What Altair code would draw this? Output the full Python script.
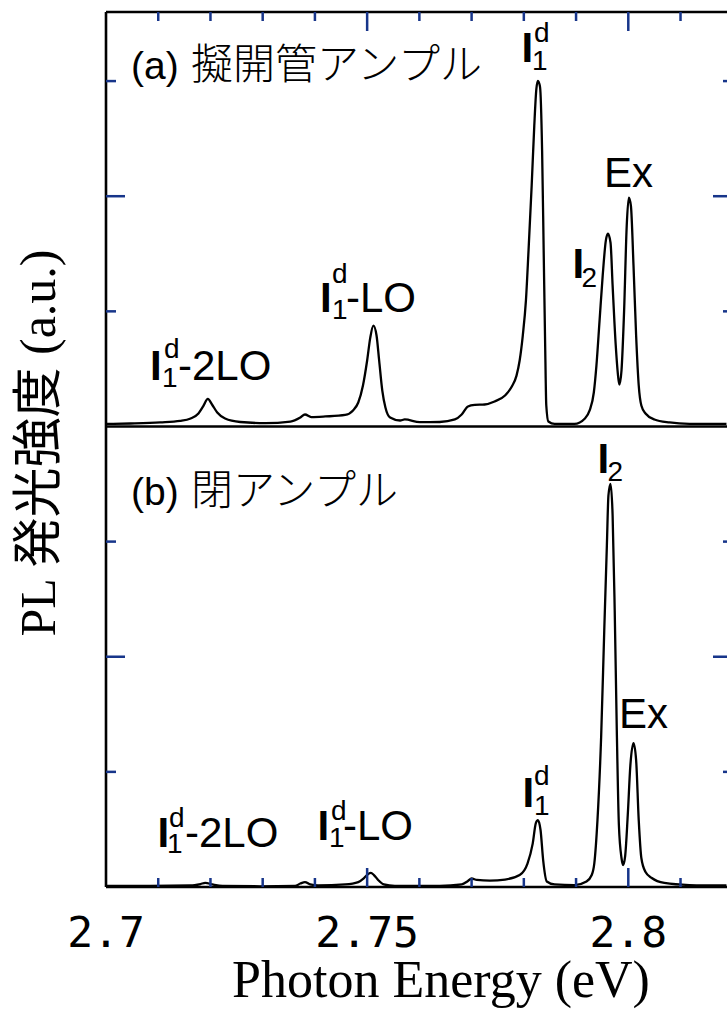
import altair as alt
import pandas as pd

# ---------------- data ----------------
# Panel (a) spectrum: photon energy (eV) and PL intensity (a.u.)
energy_a = [2.7000, 2.7047, 2.7104, 2.7142, 2.7162, 2.7177, 2.7186, 2.7195, 2.7203, 2.7213,
            2.7228, 2.7257, 2.7305, 2.7353, 2.7372, 2.7381, 2.7393, 2.7420, 2.7458, 2.7473,
            2.7483, 2.7492, 2.7500, 2.7506, 2.7512, 2.7518, 2.7523, 2.7529, 2.7535, 2.7544,
            2.7563, 2.7572, 2.7601, 2.7639, 2.7668, 2.7681, 2.7693, 2.7706, 2.7725, 2.7744,
            2.7764, 2.7777, 2.7786, 2.7792, 2.7798, 2.7804, 2.7809, 2.7815, 2.7820, 2.7824,
            2.7827, 2.7831, 2.7835, 2.7838, 2.7841, 2.7843, 2.7847, 2.7859, 2.7897, 2.7917,
            2.7926, 2.7934, 2.7939, 2.7945, 2.7951, 2.7957, 2.7961, 2.7966, 2.7970, 2.7976,
            2.7981, 2.7983, 2.7987, 2.7992, 2.7997, 2.8001, 2.8005, 2.8010, 2.8015, 2.8020,
            2.8025, 2.8033, 2.8050, 2.8079, 2.8117, 2.8188]
intensity_a = [0.022, 0.026, 0.035, 0.048, 0.069, 0.113, 0.174, 0.239, 0.191, 0.121,
               0.069, 0.039, 0.029, 0.043, 0.078, 0.104, 0.082, 0.087, 0.100, 0.139,
               0.208, 0.356, 0.573, 0.772, 0.876, 0.790, 0.573, 0.312, 0.165, 0.078,
               0.052, 0.061, 0.037, 0.039, 0.061, 0.104, 0.174, 0.187, 0.191, 0.217,
               0.269, 0.347, 0.442, 0.573, 0.790, 1.093, 1.527, 2.091, 2.611, 2.932,
               3.002, 2.950, 2.395, 1.527, 0.659, 0.182, 0.043, 0.022, 0.022, 0.069,
               0.139, 0.295, 0.529, 0.920, 1.310, 1.614, 1.674, 1.596, 1.223, 0.703,
               0.416, 0.364, 0.486, 1.006, 1.744, 1.987, 1.917, 1.397, 0.790, 0.356,
               0.182, 0.113, 0.061, 0.035, 0.023, 0.022]

# Panel (b) spectrum
energy_b = [2.7000, 2.7085, 2.7162, 2.7181, 2.7190, 2.7204, 2.7223, 2.7295, 2.7362, 2.7372,
            2.7381, 2.7391, 2.7406, 2.7458, 2.7483, 2.7494, 2.7502, 2.7507, 2.7513, 2.7521,
            2.7532, 2.7553, 2.7639, 2.7681, 2.7693, 2.7700, 2.7710, 2.7735, 2.7764, 2.7792,
            2.7807, 2.7817, 2.7823, 2.7827, 2.7832, 2.7837, 2.7844, 2.7859, 2.7897, 2.7920,
            2.7930, 2.7935, 2.7941, 2.7948, 2.7954, 2.7959, 2.7962, 2.7966, 2.7970, 2.7974,
            2.7978, 2.7982, 2.7987, 2.7990, 2.7994, 2.7999, 2.8004, 2.8010, 2.8015, 2.8020,
            2.8025, 2.8033, 2.8045, 2.8069, 2.8117, 2.8188]
intensity_b = [0.009, 0.009, 0.013, 0.026, 0.036, 0.022, 0.009, 0.006, 0.009, 0.030,
               0.043, 0.022, 0.013, 0.022, 0.043, 0.078, 0.113, 0.123, 0.104, 0.061,
               0.022, 0.009, 0.009, 0.022, 0.052, 0.074, 0.061, 0.056, 0.065, 0.104,
               0.204, 0.377, 0.555, 0.581, 0.495, 0.234, 0.048, 0.022, 0.017, 0.048,
               0.104, 0.208, 0.581, 1.301, 2.230, 2.967, 3.401, 3.501, 3.227, 2.403,
               1.362, 0.538, 0.252, 0.191, 0.269, 0.625, 1.058, 1.249, 1.102, 0.581,
               0.252, 0.130, 0.078, 0.035, 0.017, 0.013]

# Axes
x_tick_minor = [2.71, 2.72, 2.73, 2.74, 2.76, 2.77, 2.78, 2.79, 2.81]
x_tick_major = [2.75, 2.80]
x_label_values = [2.70, 2.75, 2.80]
x_label_text = ["2.7", "2.75", "2.8"]
y_tick_minor = [1, 3]
y_tick_major = [2]
x_title = "Photon Energy (eV)"
y_title = "PL 発光強度 (a.u.)"
panel_a_title = ["(a)", "擬開管アンプル"]
panel_b_title = ["(b)", "閉アンプル"]

# Peak labels: bold "I", small sub/superscripts, and the rest of the text
lab_I_energy = [2.70842, 2.74097, 2.77955, 2.78932, 2.70986, 2.74049, 2.79410, 2.77974]
lab_I_level = [0.404, 0.994, 3.166, 1.291, 0.347, 0.408, 3.596, 0.695]
lab_I_panel = ["a", "a", "a", "a", "b", "b", "b", "b"]

lab_small_text = ["1", "d", "1", "d", "1", "d", "2",
                  "1", "d", "1", "d", "2", "1", "d"]
lab_small_energy = [2.71072, 2.71110, 2.74327, 2.74327, 2.78156, 2.78194, 2.79104,
                    2.71168, 2.71206, 2.74270, 2.74308, 2.79602, 2.78194, 2.78194]
lab_small_level = [0.343, 0.595, 0.934, 1.246, 3.096, 3.339, 1.213,
                   0.295, 0.521, 0.347, 0.582, 3.526, 0.625, 0.886]
lab_small_panel = ["a"] * 7 + ["b"] * 7

lab_main_text = ["-2LO", "-LO", "Ex", "-2LO", "-LO", "Ex"]
lab_main_energy = [2.71379, 2.74595, 2.79535, 2.71513, 2.74538, 2.79822]
lab_main_level = [0.404, 0.994, 2.080, 0.347, 0.408, 1.381]
lab_main_panel = ["a", "a", "a", "b", "b", "b"]

# ---------------- layout ----------------
PANEL_A_OFFSET = 4.0      # panel (a) sits on top of panel (b) (which spans 0..4)
W, H = 621, 875
TICK_COLOR = "#17358a"
FRAME = 2.6

x_scale = alt.Scale(domain=[2.70, 2.8189], nice=False, zero=False)
y_scale = alt.Scale(domain=[0, 7.6], nice=False, zero=False)

ONE = pd.DataFrame({"k": [0]})   # single row for annotation marks

def lev(level, panel):
    return [v + (PANEL_A_OFFSET if p == "a" else 0.0) for v, p in zip(level, panel)]

spec_a = pd.DataFrame({"energy": energy_a, "intensity": intensity_a})
spec_b = pd.DataFrame({"energy": energy_b, "intensity": intensity_b})

line_a = alt.Chart(spec_a).transform_calculate(
    level=f"datum.intensity + {PANEL_A_OFFSET}"
).mark_line(color="black", strokeWidth=2.3, clip=True, interpolate="monotone").encode(
    x=alt.X("energy:Q", scale=x_scale, axis=None),
    y=alt.Y("level:Q", scale=y_scale, axis=None),
)
line_b = alt.Chart(spec_b).mark_line(
    color="black", strokeWidth=2.3, clip=True, interpolate="monotone").encode(
    x=alt.X("energy:Q", scale=x_scale, axis=None),
    y=alt.Y("intensity:Q", scale=y_scale, axis=None),
)

# frame
frame_left = alt.Chart(ONE).mark_rule(color="black", strokeWidth=FRAME).encode(
    x=alt.value(0), y=alt.value(0), y2=alt.value(H))
frame_top = alt.Chart(ONE).mark_rule(color="black", strokeWidth=FRAME).encode(
    y=alt.value(0), x=alt.value(0), x2=alt.value(W))
frame_bottom = alt.Chart(ONE).mark_rule(color="black", strokeWidth=FRAME).encode(
    y=alt.value(H), x=alt.value(0), x2=alt.value(W))
frame_mid = alt.Chart(pd.DataFrame({"level": [PANEL_A_OFFSET]})).mark_rule(
    color="black", strokeWidth=FRAME).encode(
    y=alt.Y("level:Q", scale=y_scale, axis=None), x=alt.value(0), x2=alt.value(W))

# x ticks (inward): bottom of panel (b) and top of panel (a)
xt_minor = pd.DataFrame({"energy": x_tick_minor})
xt_major = pd.DataFrame({"energy": x_tick_major})
def xticks(df, y0, y1):
    return alt.Chart(df).mark_rule(color=TICK_COLOR, strokeWidth=2.5).encode(
        x=alt.X("energy:Q", scale=x_scale, axis=None), y=alt.value(y0), y2=alt.value(y1))
x_ticks = [xticks(xt_minor, H, H - 9), xticks(xt_major, H, H - 19),
           xticks(xt_minor, 0, 9), xticks(xt_major, 0, 19)]

# y ticks (inward) on both sides, both panels
yt_minor = pd.DataFrame({"level": y_tick_minor + [v + PANEL_A_OFFSET for v in y_tick_minor]})
yt_major = pd.DataFrame({"level": y_tick_major + [v + PANEL_A_OFFSET for v in y_tick_major]})
def yticks(df, x0, x1):
    return alt.Chart(df).mark_rule(color=TICK_COLOR, strokeWidth=2.5).encode(
        y=alt.Y("level:Q", scale=y_scale, axis=None), x=alt.value(x0), x2=alt.value(x1))
y_ticks = [yticks(yt_minor, 0, 10), yticks(yt_major, 0, 19),
           yticks(yt_minor, 617, 630), yticks(yt_major, 607, 630)]

# x tick labels
xl = pd.DataFrame({"energy": x_label_values, "label": x_label_text})
x_labels = alt.Chart(xl).mark_text(
    font="DejaVu Sans Mono", fontSize=43, align="center", baseline="alphabetic", color="black"
).encode(x=alt.X("energy:Q", scale=x_scale, axis=None), y=alt.value(935), text="label:N")

# axis titles
x_title_mark = alt.Chart(ONE).mark_text(
    text=x_title, font="Liberation Serif", fontSize=52, align="center",
    baseline="alphabetic", color="black"
).encode(x=alt.value(335), y=alt.value(985))
y_title_mark = alt.Chart(ONE).mark_text(
    text=y_title, font="Liberation Serif, Noto Sans CJK JP", fontSize=50, angle=270,
    align="center", baseline="middle", color="black"
).encode(x=alt.value(-66), y=alt.value(431))

# panel titles
def ptitle(txt, x, y, font, size, weight=400):
    return alt.Chart(ONE).mark_text(
        text=txt, font=font, fontSize=size, fontWeight=weight, align="left",
        baseline="alphabetic", color="black"
    ).encode(x=alt.value(x), y=alt.value(y))
titles = [
    ptitle(panel_a_title[0], 25, 67, "Liberation Sans", 39),
    ptitle(panel_a_title[1], 85, 67, "Noto Sans CJK JP", 42, 300),
    ptitle(panel_b_title[0], 25, 493, "Liberation Sans", 39),
    ptitle(panel_b_title[1], 85, 493, "Noto Sans CJK JP", 42, 300),
]

# peak labels
labI = pd.DataFrame({"energy": lab_I_energy, "level": lev(lab_I_level, lab_I_panel), "t": ["I"] * 8})
labS = pd.DataFrame({"energy": lab_small_energy, "level": lev(lab_small_level, lab_small_panel),
                     "t": lab_small_text})
labM = pd.DataFrame({"energy": lab_main_energy, "level": lev(lab_main_level, lab_main_panel),
                     "t": lab_main_text})
def labels(df, size, weight):
    return alt.Chart(df).mark_text(
        font="Liberation Sans", fontSize=size, fontWeight=weight, align="left",
        baseline="alphabetic", color="black"
    ).encode(x=alt.X("energy:Q", scale=x_scale, axis=None),
             y=alt.Y("level:Q", scale=y_scale, axis=None), text="t:N")
peak_labels = [labels(labI, 42, "bold"), labels(labS, 28, "normal"), labels(labM, 42, "normal")]

chart = alt.layer(
    line_a, line_b, frame_left, frame_top, frame_bottom, frame_mid,
    *x_ticks, *y_ticks, x_labels, x_title_mark, y_title_mark, *titles, *peak_labels
).properties(
    width=W, height=H,
    autosize=alt.AutoSizeParams(type="none"),
    padding={"left": 106, "top": 12, "right": 0, "bottom": 123},
    background="white",
).configure_view(stroke=None)

chart.save("out.html", embed_options={"renderer": "svg", "actions": False})
